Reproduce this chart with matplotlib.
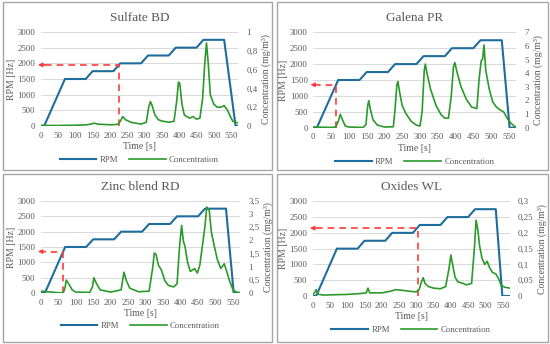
import matplotlib
matplotlib.use("Agg")
import matplotlib.pyplot as plt
from matplotlib.patches import Rectangle
from matplotlib.ticker import FuncFormatter, MultipleLocator

plt.rcParams["font.family"] = ["Liberation Serif", "DejaVu Serif"]

# ---- data ----
# Sulfate BD
sul_rpm_t = [0, 10, 70, 130, 150, 210, 230, 290, 310, 370, 390, 450, 470, 530, 563, 570]
sul_rpm = [0, 0, 1500, 1500, 1750, 1750, 2000, 2000, 2250, 2250, 2500, 2500, 2750, 2750, 0, 0]
sul_t = [0, 50, 70, 100, 130, 145, 155, 165, 200, 222, 230, 237, 245, 260, 290, 305, 312, 317,
         322, 330, 340, 350, 370, 385, 393, 398, 402, 408, 415, 430, 440, 450, 460, 468, 474,
         479, 484, 490, 500, 510, 520, 530, 540, 548, 555, 570]
sul_c = [0.007, 0.005, 0.007, 0.008, 0.012, 0.02, 0.03, 0.02, 0.013, 0.017, 0.05, 0.1, 0.067,
         0.04, 0.02, 0.04, 0.2, 0.26, 0.217, 0.117, 0.067, 0.053, 0.04, 0.05, 0.267, 0.467,
         0.45, 0.233, 0.117, 0.083, 0.1, 0.073, 0.083, 0.3, 0.667, 0.883, 0.667, 0.333, 0.233,
         0.2, 0.2, 0.217, 0.167, 0.1, 0.05, 0.033]
sul_arrow_t, sul_arrow_rpm = 225, 1950

# Galena PR
gal_rpm_t = [0, 10, 70, 130, 150, 210, 230, 290, 310, 370, 390, 450, 470, 530, 552, 570]
gal_rpm = [0, 0, 1500, 1500, 1750, 1750, 2000, 2000, 2250, 2250, 2500, 2500, 2750, 2750, 0, 0]
gal_t = [0, 50, 63, 70, 76, 82, 90, 100, 140, 148, 153, 156, 160, 168, 180, 200, 225, 230,
         235, 238, 243, 250, 260, 275, 290, 300, 306, 312, 315, 320, 330, 345, 360, 370, 380,
         388, 394, 398, 403, 415, 430, 445, 460, 466, 472, 476, 480, 485, 495, 505, 515, 525,
         535, 545, 555, 565, 570]
gal_c = [0.05, 0.02, 0.05, 0.47, 0.98, 0.58, 0.12, 0.05, 0.02, 0.23, 1.63, 1.98, 1.4, 0.58,
         0.19, 0.05, 0.07, 1.4, 3.15, 3.38, 2.57, 1.63, 1.05, 0.47, 0.19, 0.12, 1.17, 4.2, 4.67,
         3.97, 2.8, 1.63, 0.93, 0.7, 0.7, 2.33, 4.43, 4.78, 4.2, 3.03, 2.1, 1.52, 1.4, 3.5, 4.9,
         5.02, 6.07, 4.2, 2.8, 1.87, 1.52, 1.31, 1.17, 0.7, 0.35, 0.12, 0.05]
gal_arrow_t, gal_arrow_rpm = 63, 1350

# Zinc blend RD
zin_rpm_t = [0, 12, 70, 130, 150, 210, 230, 290, 310, 370, 390, 450, 470, 530, 552, 570]
zin_rpm = [0, 0, 1500, 1500, 1750, 1750, 2000, 2000, 2250, 2250, 2500, 2500, 2750, 2750, 0, 0]
zin_t = [0, 10, 30, 50, 65, 70, 73, 80, 90, 100, 140, 148, 152, 160, 170, 200, 230, 238, 245,
         255, 280, 310, 320, 325, 330, 337, 345, 355, 365, 380, 390, 397, 403, 408, 413, 420,
         428, 440, 448, 455, 462, 470, 475, 482, 488, 495, 505, 515, 525, 532, 540, 550, 560, 570]
zin_c = [0.07, 0.06, 0.035, 0.012, 0.012, 0.23, 0.49, 0.35, 0.12, 0.035, 0.023, 0.23, 0.58,
         0.35, 0.12, 0.035, 0.12, 0.79, 0.47, 0.18, 0.047, 0.07, 0.93, 1.52, 1.46, 1.05, 0.88,
         0.47, 0.29, 0.23, 0.35, 1.75, 2.57, 1.98, 1.75, 1.17, 0.82, 0.93, 0.76, 1.05, 1.75,
         2.57, 3.27, 3.15, 2.33, 1.87, 1.28, 0.93, 1.11, 0.82, 0.47, 0.12, 0.035, 0.012]
zin_arrow_t, zin_arrow_rpm = 65, 1350

# Oxides WL
oxi_rpm_t = [0, 10, 70, 130, 150, 210, 230, 290, 310, 370, 390, 450, 470, 530, 549, 570]
oxi_rpm = [0, 0, 1500, 1500, 1750, 1750, 2000, 2000, 2250, 2250, 2500, 2500, 2750, 2750, 0, 0]
oxi_t = [0, 5, 10, 15, 30, 60, 100, 140, 155, 160, 165, 200, 225, 240, 260, 280, 300, 308, 315,
         320, 325, 335, 350, 370, 385, 395, 400, 405, 412, 420, 435, 445, 460, 468, 473, 478,
         483, 490, 498, 505, 512, 520, 530, 538, 545, 555, 570]
oxi_c = [0.003, 0.01, 0.02, 0.006, 0.003, 0.004, 0.005, 0.008, 0.01, 0.025, 0.01, 0.01, 0.015,
         0.02, 0.018, 0.015, 0.013, 0.02, 0.045, 0.058, 0.04, 0.03, 0.025, 0.023, 0.03, 0.09,
         0.13, 0.1, 0.06, 0.045, 0.04, 0.035, 0.04, 0.15, 0.24, 0.21, 0.16, 0.12, 0.1, 0.11,
         0.09, 0.075, 0.07, 0.055, 0.035, 0.028, 0.025]
oxi_arrow_t, oxi_arrow_rpm = 305, 2150

titles = ["Sulfate BD", "Galena PR", "Zinc blend RD", "Oxides WL"]
conc_max = [1.0, 7.0, 3.5, 0.3]
conc_step = [0.2, 1.0, 0.5, 0.05]

series = [
    (sul_rpm_t, sul_rpm, sul_t, sul_c, sul_arrow_t, sul_arrow_rpm),
    (gal_rpm_t, gal_rpm, gal_t, gal_c, gal_arrow_t, gal_arrow_rpm),
    (zin_rpm_t, zin_rpm, zin_t, zin_c, zin_arrow_t, zin_arrow_rpm),
    (oxi_rpm_t, oxi_rpm, oxi_t, oxi_c, oxi_arrow_t, oxi_arrow_rpm),
]

# ---- layout in pixels ----
W, H = 550, 344
frames = [(3, 2, 272, 170), (277, 2, 548, 170), (3, 174, 272, 342), (277, 174, 548, 342)]
plot_boxes = [(40.7, 32, 238, 126), (313.3, 32.3, 516, 127.7),
              (40.7, 201, 240, 293), (312.7, 201.3, 509.6, 296)]

RPM_COLOR = "#1f6d9c"
CONC_COLOR = "#2b9a2b"
ARROW_COLOR = "#ff3b3b"
TEXT = "#595959"
GRID = "#d9d9d9"

comma = FuncFormatter(lambda v, _: f"{v:g}".replace(".", ","))

fig = plt.figure(figsize=(W / 100, H / 100), dpi=100)

for i, (title, cmax, cstep, (rt, rv, ct, cv, at, ar)) in enumerate(
        zip(titles, conc_max, conc_step, series)):
    x0, y0, x1, y1 = frames[i]
    fig.patches.append(Rectangle((x0 / W, 1 - y1 / H), (x1 - x0) / W, (y1 - y0) / H,
                                 transform=fig.transFigure, fill=False,
                                 edgecolor="#a6a6a6", linewidth=1.0))

    px0, py0, px1, py1 = plot_boxes[i]
    ax = fig.add_axes([px0 / W, 1 - py1 / H, (px1 - px0) / W, (py1 - py0) / H])
    ax2 = ax.twinx()

    ax.plot(rt, rv, color=RPM_COLOR, linewidth=1.5, label="RPM", zorder=3)
    ax2.plot(ct, cv, color=CONC_COLOR, linewidth=1.2, label="Concentration")

    # red dashed reading line + arrow head
    ax.plot([at, at, 12], [0, ar, ar], color=ARROW_COLOR, linestyle=(0, (4, 3)),
            linewidth=1.2, clip_on=False, zorder=4)
    ax.annotate("", xy=(-8, ar), xytext=(14, ar),
                arrowprops=dict(arrowstyle="-|>", color=ARROW_COLOR, lw=1.0,
                                mutation_scale=6, shrinkA=0, shrinkB=0),
                annotation_clip=False, zorder=4)

    ax.set_xlim(0, 570)
    ax.set_ylim(0, 3000)
    ax2.set_ylim(0, cmax)
    ax.set_xticks(range(0, 551, 50))
    ax.yaxis.set_major_locator(MultipleLocator(500))
    ax2.yaxis.set_major_locator(MultipleLocator(cstep))
    ax2.yaxis.set_major_formatter(comma)

    ax.grid(axis="y", color=GRID, linewidth=0.7)
    ax.set_axisbelow(True)
    for a in (ax, ax2):
        for s in a.spines.values():
            s.set_visible(False)
        a.tick_params(length=0, labelsize=6.4, colors=TEXT, pad=4)
    ax2.tick_params(pad=6)

    ax.set_title(title, fontsize=9.5, color=TEXT, pad=8)
    ax.set_xlabel("Time [s]", fontsize=7, color=TEXT, labelpad=2)
    ax.set_ylabel("RPM [Hz]", fontsize=7, color=TEXT, labelpad=1)
    ax2.set_ylabel("Concentration (mg/m³)", fontsize=7, color=TEXT, labelpad=3)

    h1, l1 = ax.get_legend_handles_labels()
    h2, l2 = ax2.get_legend_handles_labels()
    ax.legend(h1 + h2, l1 + l2, loc="upper center", bbox_to_anchor=(0.5, -0.25),
              ncol=2, frameon=False, fontsize=6.3, handlelength=4.2,
              columnspacing=1.2, handletextpad=0.4, labelcolor=TEXT,
              borderpad=0.2)

fig.savefig("out.png", dpi=100)
